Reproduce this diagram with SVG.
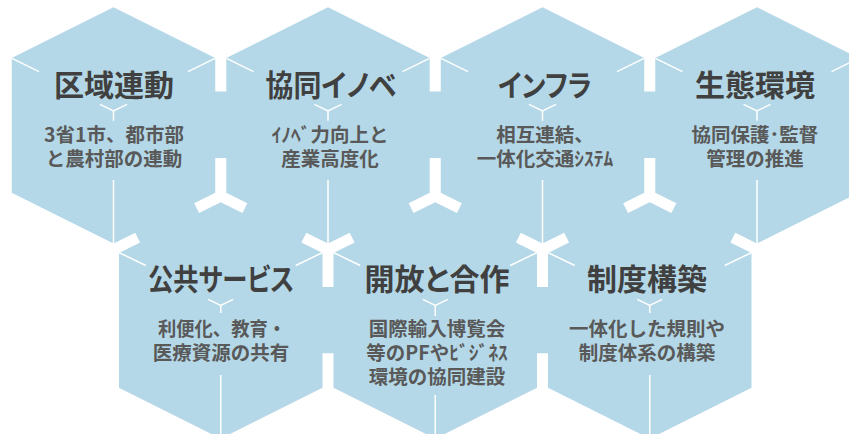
<svg xmlns="http://www.w3.org/2000/svg" width="849" height="434" viewBox="0 0 849 434">
<style>
.hex{fill:#b4d8e7;stroke:#b4d8e7;stroke-width:1.2}
.cube{fill:none;stroke:#ffffff;stroke-width:1.5}
.sep{fill:none;stroke:#ffffff;stroke-width:11;stroke-linecap:butt;stroke-linejoin:miter;stroke-miterlimit:10}
.t{font-family:"Noto Sans CJK JP","Noto Sans CJK SC",sans-serif;font-weight:700;font-size:30px;fill:#404040;text-anchor:middle;font-feature-settings:"palt" 1}
.s{font-family:"Noto Sans CJK JP","Noto Sans CJK SC",sans-serif;font-weight:700;font-size:19.5px;fill:#595959;text-anchor:middle}
</style>
<rect width="849" height="434" fill="#ffffff"/>
<g id="node-1">
<polygon class="hex" points="113.5,1 220.75,54.6 220.75,196.1 113.5,249.7 6.25,196.1 6.25,54.6"/>
<path class="cube" d="M12,58.3 L39,71.7 M215,58.3 L188,71.7 M100,104.3 L113.5,111 L127,104.3 M113.5,111 V120.7 M113.5,180 V249.7"/>
<text class="t" x="114" y="96">区域連動</text>
<text class="s" x="114" y="142">3省1市、都市部</text>
<text class="s" x="114" y="166">と農村部の連動</text>
</g>
<g id="node-2">
<polygon class="hex" points="328,1 435.25,54.6 435.25,196.1 328,249.7 220.75,196.1 220.75,54.6"/>
<path class="cube" d="M226.5,58.3 L253.5,71.7 M429.5,58.3 L402.5,71.7 M314.5,104.3 L328,111 L341.5,104.3 M328,111 V120.7 M328,180 V249.7"/>
<text class="t" x="331" y="96" textLength="131" lengthAdjust="spacingAndGlyphs">協同イノベ</text>
<text class="s" x="330" y="142">ｲﾉﾍﾞ力向上と</text>
<text class="s" x="330" y="166">産業高度化</text>
</g>
<g id="node-3">
<polygon class="hex" points="542.5,1 649.75,54.6 649.75,196.1 542.5,249.7 435.25,196.1 435.25,54.6"/>
<path class="cube" d="M441,58.3 L468,71.7 M644,58.3 L617,71.7 M529,104.3 L542.5,111 L556,104.3 M542.5,111 V120.7 M542.5,180 V249.7"/>
<text class="t" x="545" y="96" textLength="94" lengthAdjust="spacingAndGlyphs">インフラ</text>
<text class="s" x="545" y="142">相互連結、</text>
<text class="s" x="545" y="166">一体化交通ｼｽﾃﾑ</text>
</g>
<g id="node-4">
<polygon class="hex" points="757,1 864.25,54.6 864.25,196.1 757,249.7 649.75,196.1 649.75,54.6"/>
<path class="cube" d="M655.5,58.3 L682.5,71.7 M858.5,58.3 L831.5,71.7 M743.5,104.3 L757,111 L770.5,104.3 M757,111 V120.7 M757,180 V249.7"/>
<text class="t" x="755" y="96">生態環境</text>
<text class="s" x="755" y="142">協同保護･監督</text>
<text class="s" x="755" y="166">管理の推進</text>
</g>
<g id="node-5">
<polygon class="hex" points="220.75,196.1 328,249.7 328,391.2 220.75,444.8 113.5,391.2 113.5,249.7"/>
<path class="cube" d="M119.25,252.7 L145.75,265.5 M322.25,252.7 L295.75,265.5 M208.25,299.3 L220.75,305.5 L233.25,299.3 M220.75,305.5 V313 M220.75,375 V440"/>
<text class="t" x="221" y="290" textLength="146" lengthAdjust="spacingAndGlyphs">公共サービス</text>
<text class="s" x="222" y="336" textLength="128" lengthAdjust="spacingAndGlyphs">利便化、教育・</text>
<text class="s" x="221" y="360">医療資源の共有</text>
</g>
<g id="node-6">
<polygon class="hex" points="435.25,196.1 542.5,249.7 542.5,391.2 435.25,444.8 328,391.2 328,249.7"/>
<path class="cube" d="M333.75,252.7 L360.25,265.5 M536.75,252.7 L510.25,265.5 M422.75,299.3 L435.25,305.5 L447.75,299.3 M435.25,305.5 V316 M435.25,395 V440"/>
<text class="t" x="437" y="290">開放と合作</text>
<text class="s" x="437" y="336">国際輸入博覧会</text>
<text class="s" x="437" y="360">等のPFやﾋﾞｼﾞﾈｽ</text>
<text class="s" x="437" y="384">環境の協同建設</text>
</g>
<g id="node-7">
<polygon class="hex" points="649.75,196.1 757,249.7 757,391.2 649.75,444.8 542.5,391.2 542.5,249.7"/>
<path class="cube" d="M548.25,252.7 L574.75,265.5 M751.25,252.7 L724.75,265.5 M637.25,299.3 L649.75,305.5 L662.25,299.3 M649.75,305.5 V313 M649.75,375 V440"/>
<text class="t" x="647" y="290">制度構築</text>
<text class="s" x="647" y="336">一体化した規則や</text>
<text class="s" x="647" y="360">制度体系の構築</text>
</g>
<g id="connectors">
<path class="sep" d="M6.25,54.6 L113.5,1 L220.75,54.6 L328,1 L435.25,54.6 L542.5,1 L649.75,54.6 L757,1 L864.25,54.6 L864.25,196.1 L757,249.7 L757,391.2 L649.75,444.8 L542.5,391.2 L435.25,444.8 L328,391.2 L220.75,444.8 L113.5,391.2 L113.5,249.7 L6.25,196.1 Z"/>
<path class="sep" d="M220.75,54.6 V91.6 M435.25,54.6 V91.6 M649.75,54.6 V91.6"/>
<path class="sep" d="M220.75,158.1 V196.1 M196.6,208.17 L220.75,196.1 L244.9,208.17 M435.25,158.1 V196.1 M411.1,208.17 L435.25,196.1 L459.4,208.17 M649.75,158.1 V196.1 M625.6,208.17 L649.75,196.1 L673.9,208.17"/>
<path class="sep" d="M303.85,237.63 L328,249.7 L352.15,237.63 M328,249.7 V287 M518.35,237.63 L542.5,249.7 L566.65,237.63 M542.5,249.7 V287"/>
<path class="sep" d="M113.5,249.7 L137.65,237.63 M757,249.7 L732.85,237.63"/>
<path class="sep" d="M328,391.2 V353.2 M542.5,391.2 V353.2"/>
</g>
</svg>
